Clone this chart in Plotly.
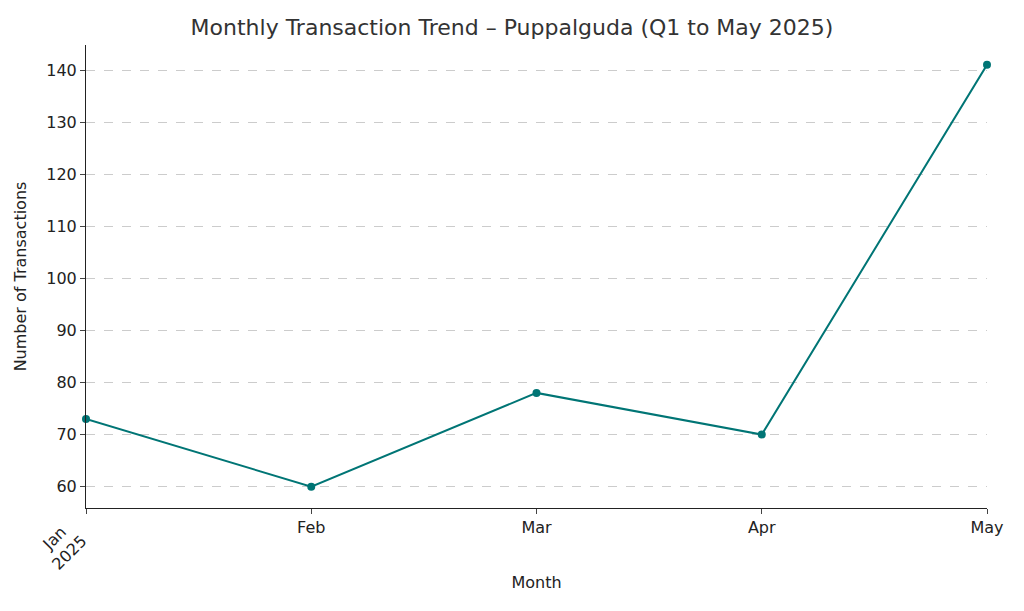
import plotly.graph_objects as go

months = ["Jan", "Feb", "Mar", "Apr", "May"]
transactions = [73, 60, 78, 70, 141]
y_ticks = [60, 70, 80, 90, 100, 110, 120, 130, 140]

xs = list(range(len(months)))
line_color = "#007575"

fig = go.Figure()
fig.add_trace(go.Scatter(
    x=xs, y=transactions, mode="lines+markers",
    line=dict(color=line_color, width=2),
    marker=dict(color=line_color, size=8),
    cliponaxis=False,
))

fig.update_layout(
    autosize=True,
    margin=dict(l=71, r=27, t=37, b=95),
    plot_bgcolor="white", paper_bgcolor="white",
    font=dict(family="DejaVu Sans", size=16, color="#222"),
    title=dict(text="Monthly Transaction Trend – Puppalguda (Q1 to May 2025)",
               x=0.5, xanchor="center", y=0.967, yanchor="middle",
               font=dict(size=22, color="#333")),
    showlegend=False,
)
fig.update_xaxes(
    range=[0, 4], tickvals=xs, ticktext=[""] + months[1:], tickangle=0,
    showgrid=False, showline=True, linecolor="#222", ticks="outside", ticklen=5,
    title=dict(text="Month", font=dict(size=16), standoff=40),
)
fig.update_yaxes(
    range=[55.9, 144.8], tickvals=y_ticks, showgrid=True, gridcolor="#ccc",
    griddash="dash", showline=True, linecolor="#222", ticks="outside", ticklen=5,
    zeroline=False, title=dict(text="Number of Transactions", font=dict(size=16)),
)
fig.add_annotation(x=0, y=0, xref="x", yref="paper", yshift=-6, xshift=8,
                   text="Jan<br>2025", showarrow=False, textangle=-45,
                   xanchor="right", yanchor="top", font=dict(size=16))

fig.write_html("out.html", config={"responsive": True},
               default_width="100%", default_height="100%")
